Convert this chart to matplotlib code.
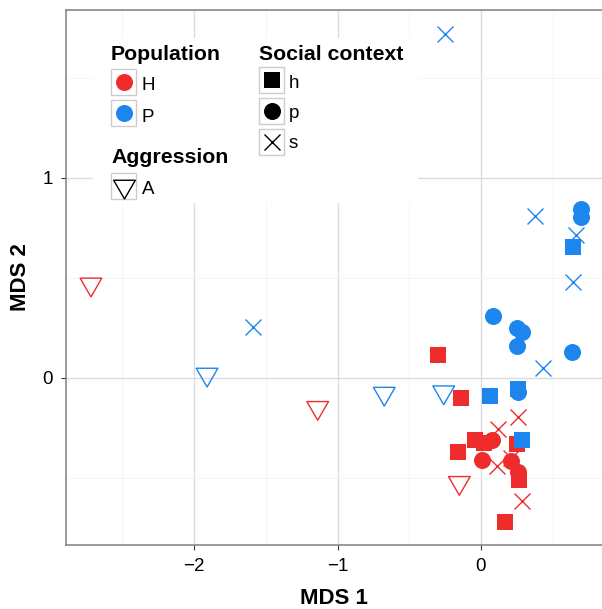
import matplotlib
matplotlib.use("Agg")
import matplotlib.pyplot as plt
from matplotlib.patches import Rectangle
from matplotlib.path import Path
from matplotlib.lines import Line2D

plt.rcParams["font.family"] = ["Liberation Sans", "DejaVu Sans"]

# MDS coordinates, population and shape group (h/p/s social context, A = aggression)
mds1_H = [-2.718, -1.138, -0.151, -0.30, -0.139, -0.16, 0.26, 0.12, -0.042, 0.02,
          0.08, 0.25, 0.01, 0.11, 0.21, 0.21, 0.26, 0.265, 0.284, 0.17]
mds2_H = [0.468, -0.149, -0.524, 0.115, -0.099, -0.37, -0.197, -0.257, -0.31, -0.325,
          -0.31, -0.33, -0.41, -0.44, -0.40, -0.415, -0.47, -0.51, -0.615, -0.72]
group_H = ["A", "A", "A", "h", "h", "h", "s", "s", "h", "h",
           "p", "h", "p", "s", "s", "p", "p", "h", "s", "h"]

mds1_P = [-0.251, 0.376, 0.695, 0.695, 0.662, 0.643, 0.643, 0.081, 0.249, 0.283,
          0.249, 0.636, 0.434, -1.591, -1.909, -0.674, -0.26, 0.063, 0.256, 0.256, 0.284]
mds2_P = [1.72, 0.81, 0.845, 0.805, 0.715, 0.653, 0.48, 0.31, 0.248, 0.232,
          0.16, 0.13, 0.048, 0.257, 0.0175, -0.078, -0.071, -0.09, -0.055, -0.068, -0.31]
group_P = ["s", "s", "p", "p", "s", "h", "s", "p", "p", "p",
           "p", "p", "s", "s", "A", "A", "A", "h", "h", "p", "h"]

pop_labels = ["H", "P"]
context_labels = ["h", "p", "s"]
aggression_labels = ["A"]
x_ticks = [-2, -1, 0]
y_ticks = [0, 1]

RED = "#EE2C2C"
BLUE = "#1C86EE"

W, H = 602, 609
DPI = 100

# Open downward triangle, centred on its centroid
tri_down = Path([(-1, 0.5774), (1, 0.5774), (0, -1.1547), (-1, 0.5774)],
                [Path.MOVETO, Path.LINETO, Path.LINETO, Path.CLOSEPOLY])

STYLE = {
    "h": dict(marker="s", s=132, filled=True, lw=0),
    "p": dict(marker="o", s=150, filled=True, lw=0),
    "s": dict(marker="x", s=132, filled=False, lw=1.0),
    "A": dict(marker=tri_down, s=324, filled=False, lw=1.0),
}


def draw_points(ax, xs, ys, groups, color, keys):
    for key in keys:
        px = [x for x, g in zip(xs, groups) if g == key]
        py = [y for y, g in zip(ys, groups) if g == key]
        st = STYLE[key]
        if st["filled"]:
            ax.scatter(px, py, marker=st["marker"], s=st["s"], c=color,
                       linewidths=0, zorder=3)
        elif key == "s":
            ax.scatter(px, py, marker="x", s=st["s"], c=color,
                       linewidths=st["lw"], zorder=3)
        else:
            ax.scatter(px, py, marker=st["marker"], s=st["s"], facecolors="none",
                       edgecolors=color, linewidths=st["lw"], zorder=3)


fig = plt.figure(figsize=(W / DPI, H / DPI), dpi=DPI)
fig.patch.set_facecolor("white")

# panel in pixel coordinates
left_px, right_px, top_px, bottom_px = 66, 605, 10, 545
ax = fig.add_axes([left_px / W, 1 - bottom_px / H,
                   (right_px - left_px) / W, (bottom_px - top_px) / H])
x_per_px = 1 / 143.5
y_per_px = 1 / 200.0
ax.set_xlim(-(481 - left_px) * x_per_px, (right_px - 481) * x_per_px)
ax.set_ylim(-(bottom_px - 378) * y_per_px, (378 - top_px) * y_per_px)

ax.set_xticks(x_ticks)
ax.set_yticks(y_ticks)
ax.set_xticks([-2.5, -1.5, -0.5, 0.5], minor=True)
ax.set_yticks([-0.5, 0.5, 1.5], minor=True)
ax.grid(which="major", color="#DCDCDC", linewidth=1.0)
ax.grid(which="minor", color="#F4F4F4", linewidth=0.6)
ax.set_axisbelow(True)
ax.tick_params(which="minor", length=0)
ax.tick_params(which="major", length=3.5, width=0.8, color="#333333",
               labelsize=13.5, pad=6, labelcolor="black")
for sp in ax.spines.values():
    sp.set_color("#7F7F7F")
    sp.set_linewidth(1.1)

# aggression layer first, then the social-context points
draw_points(ax, mds1_H, mds2_H, group_H, RED, ["A"])
draw_points(ax, mds1_P, mds2_P, group_P, BLUE, ["A"])
draw_points(ax, mds1_H, mds2_H, group_H, RED, ["h", "p", "s"])
draw_points(ax, mds1_P, mds2_P, group_P, BLUE, ["h", "p", "s"])

fig.text(333.5 / W, 1 - 599 / H, "MDS 1", fontsize=16, fontweight="bold",
         ha="center", va="center")
fig.text(20.5 / W, 1 - 277.5 / H, "MDS 2", fontsize=16, fontweight="bold",
         ha="center", va="center", rotation=90)

# ---- legend (drawn inside the panel) ----
def fxy(px, py):
    return px / W, 1 - py / H

tf = fig.transFigure
bg = Rectangle(fxy(93, 203), (418 - 93) / W, (203 - 38) / H, transform=tf,
               facecolor="white", edgecolor="none", zorder=2)
ax.add_patch(bg)


def key_box(x0, y0, marker_key, color):
    w, h = 25, 26
    ax.add_patch(Rectangle(fxy(x0, y0 + h), w / W, h / H, transform=tf,
                           facecolor="white", edgecolor="#CCCCCC",
                           linewidth=1.0, zorder=4))
    cx, cy = fxy(x0 + w / 2, y0 + h / 2)
    st = STYLE[marker_key]
    ms = st["s"] ** 0.5
    if st["filled"]:
        ln = Line2D([cx], [cy], marker=st["marker"], markersize=ms, color=color,
                    markeredgewidth=0, linestyle="none", transform=tf, zorder=5)
    else:
        ln = Line2D([cx], [cy], marker=st["marker"], markersize=ms,
                    markerfacecolor="none", markeredgecolor=color,
                    markeredgewidth=st["lw"], linestyle="none", transform=tf,
                    zorder=5)
    ln.set_clip_on(False)
    ax.add_artist(ln)


title_kw = dict(fontsize=15.3, fontweight="bold", ha="left", va="baseline",
                transform=tf, zorder=5)
label_kw = dict(fontsize=13.5, ha="left", va="baseline", transform=tf, zorder=5)

ax.text(*fxy(111, 60.5), "Population", **title_kw)
key_box(111, 69, "p", RED)
ax.text(*fxy(141.5, 90), pop_labels[0], **label_kw)
key_box(111, 100, "p", BLUE)
ax.text(*fxy(141.5, 121.5), pop_labels[1], **label_kw)

ax.text(*fxy(111, 163), "Aggression", **title_kw)
key_box(111, 172.5, "A", "black")
ax.text(*fxy(141.5, 193.5), aggression_labels[0], **label_kw)

ax.text(*fxy(259, 60.5), "Social context", **title_kw)
key_box(259, 67, "h", "black")
ax.text(*fxy(289, 88), context_labels[0], **label_kw)
key_box(259, 98, "p", "black")
ax.text(*fxy(289, 118), context_labels[1], **label_kw)
key_box(259, 128.5, "s", "black")
ax.text(*fxy(289, 148.5), context_labels[2], **label_kw)

fig.savefig("out.png", dpi=DPI)
